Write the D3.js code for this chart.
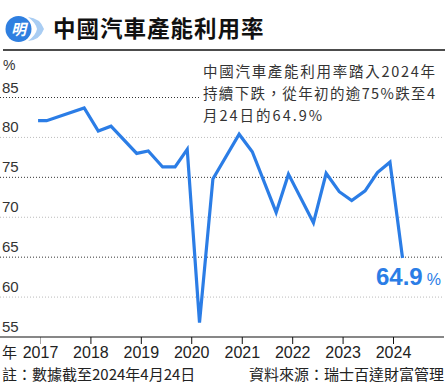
<!DOCTYPE html>
<html>
<head>
<meta charset="utf-8">
<script src="https://cdn.jsdelivr.net/npm/d3@7"></script>
<style>
  body { margin: 0; background: #fff; }
  svg { display: block; font-family: "Noto Sans CJK TC", "Liberation Sans", sans-serif; }
</style>
</head>
<body>
<div id="chart"></div>
<script>
// data
var dates = ["2016-12-18", "2017-02-18", "2017-11-17", "2018-02-27", "2018-05-30",
  "2018-12-02", "2019-02-24", "2019-06-08", "2019-09-06", "2019-12-03",
  "2020-03-01", "2020-06-06", "2020-12-13", "2021-03-18", "2021-09-07",
  "2021-12-05", "2022-06-04", "2022-09-04", "2022-12-08", "2023-03-08",
  "2023-06-13", "2023-09-10", "2023-12-10", "2024-03-10"];
var rates = [82.1, 82.1, 83.7, 80.8, 81.4, 78.0, 78.3, 76.3, 76.3, 78.5,
  56.8, 74.8, 80.4, 78.2, 70.6, 75.4, 69.3, 75.5, 73.2, 72.1,
  73.3, 75.6, 76.9, 64.9];
var years = [2017, 2018, 2019, 2020, 2021, 2022, 2023, 2024];
var yTicks = [55, 60, 65, 70, 75, 80, 85];

var W = 448, H = 386;
var parse = d3.timeParse("%Y-%m-%d");
var data = dates.map(function (d, i) { return { date: parse(d), value: rates[i] }; });

var svg = d3.select("#chart").append("svg")
    .attr("width", W)
    .attr("height", H);

var x = d3.scaleTime()
    .domain([new Date(2017, 0, 1), new Date(2024, 0, 1)])
    .range([40, 393]);

var y = d3.scaleLinear()
    .domain([55, 85])
    .range([337, 97.5]);

// header: logo, title, rule
var logo = svg.append("g");
logo.append("path")
    .attr("d", "M28,17 Q40,18 44,29 Q40,40 28,41 Q36,35 37,29 Q36,23 28,17 Z")
    .attr("fill", "#a9cdf3");
logo.append("circle")
    .attr("cx", 18.5).attr("cy", 29).attr("r", 13)
    .attr("fill", "#2f7fe0");
logo.append("text")
    .attr("x", 18.5).attr("y", 35)
    .attr("text-anchor", "middle")
    .attr("font-size", 15).attr("font-weight", "bold")
    .attr("font-style", "italic")
    .attr("fill", "#fff")
    .text("明");

svg.append("text")
    .attr("x", 53).attr("y", 37)
    .attr("font-size", 22.5).attr("font-weight", "bold")
    .attr("letter-spacing", 1)
    .attr("fill", "#111")
    .text("中國汽車產能利用率");

svg.append("line")
    .attr("x1", 3).attr("x2", 445)
    .attr("y1", 50).attr("y2", 50)
    .attr("stroke", "#111").attr("stroke-width", 1.5);

// grid lines
yTicks.slice(1).forEach(function (t, i) {
    svg.append("line")
        .attr("x1", 0).attr("x2", 444)
        .attr("y1", y(t)).attr("y2", y(t))
        .attr("stroke", i % 2 === 0 ? "#bbb" : "#333")
        .attr("stroke-width", 1)
        .attr("stroke-dasharray", "1,2");
});

// y labels
svg.selectAll(".ylab")
    .data(yTicks)
    .enter().append("text")
    .attr("class", "ylab")
    .attr("x", 2)
    .attr("y", function (d) { return y(d) - 5; })
    .attr("font-family", "Liberation Sans, sans-serif")
    .attr("font-size", 15)
    .attr("fill", "#333")
    .text(function (d) { return d; });

svg.append("text")
    .attr("x", 3).attr("y", 70)
    .attr("font-family", "Liberation Sans, sans-serif")
    .attr("font-size", 14)
    .attr("fill", "#333")
    .text("%");

// annotation (first two lines justified to the same width)
var note = ["中國汽車產能利用率踏入2024年", "持續下跌，從年初的逾75%跌至4", "月24日的64.9%"];
svg.append("rect")
    .attr("x", 199).attr("y", 58)
    .attr("width", 249).attr("height", 66)
    .attr("fill", "#fff");
svg.selectAll(".note")
    .data(note)
    .enter().append("text")
    .attr("class", "note")
    .attr("x", 203)
    .attr("y", function (d, i) { return 77 + i * 22; })
    .attr("font-size", 14.5)
    .attr("letter-spacing", 2)
    .attr("fill", "#333")
    .each(function (d, i) {
        if (i < 2) d3.select(this).attr("textLength", 234).attr("lengthAdjust", "spacing");
    })
    .text(function (d) { return d; });

// line
var line = d3.line()
    .x(function (d) { return x(d.date); })
    .y(function (d) { return y(d.value); });

svg.append("path")
    .datum(data)
    .attr("d", line)
    .attr("fill", "none")
    .attr("stroke", "#2b7de6")
    .attr("stroke-width", 3.2)
    .attr("stroke-linejoin", "miter");

// x axis
var xAxis = d3.axisBottom(x)
    .tickValues(years.map(function (yr) { return new Date(yr, 0, 1); }))
    .tickFormat(function (d) { return d.getFullYear(); })
    .tickSize(7)
    .tickSizeOuter(0);

var gx = svg.append("g")
    .attr("transform", "translate(0,337)")
    .call(xAxis);
gx.select(".domain").remove();
gx.selectAll(".tick line").attr("stroke", function (d, i) { return i === 0 ? "#aaa" : "#111"; });
gx.selectAll(".tick text")
    .attr("y", 10)
    .attr("font-family", "Liberation Sans, sans-serif")
    .attr("font-size", 16)
    .attr("fill", "#222");

svg.append("line")
    .attr("x1", 0).attr("x2", 444)
    .attr("y1", 337).attr("y2", 337)
    .attr("stroke", "#111").attr("stroke-width", 1.2);

svg.append("text")
    .attr("x", 2).attr("y", 358)
    .attr("font-size", 15)
    .attr("fill", "#222")
    .text("年");

// end label
var last = data[data.length - 1];
var endLab = svg.append("text")
    .attr("x", 376).attr("y", 285)
    .attr("fill", "#2b7de6");
endLab.append("tspan")
    .attr("font-family", "Liberation Sans, sans-serif")
    .attr("font-size", 24).attr("font-weight", "bold")
    .text(last.value.toFixed(1));
endLab.append("tspan")
    .attr("dx", 4)
    .attr("font-family", "Liberation Sans, sans-serif")
    .attr("font-size", 16)
    .text("%");

// footer
svg.append("text")
    .attr("x", 2).attr("y", 380)
    .attr("font-size", 15)
    .attr("fill", "#222")
    .text("註：數據截至2024年4月24日");
svg.append("text")
    .attr("x", 444).attr("y", 380)
    .attr("text-anchor", "end")
    .attr("font-size", 15)
    .attr("fill", "#222")
    .text("資料來源：瑞士百達財富管理");
</script>
</body>
</html>
